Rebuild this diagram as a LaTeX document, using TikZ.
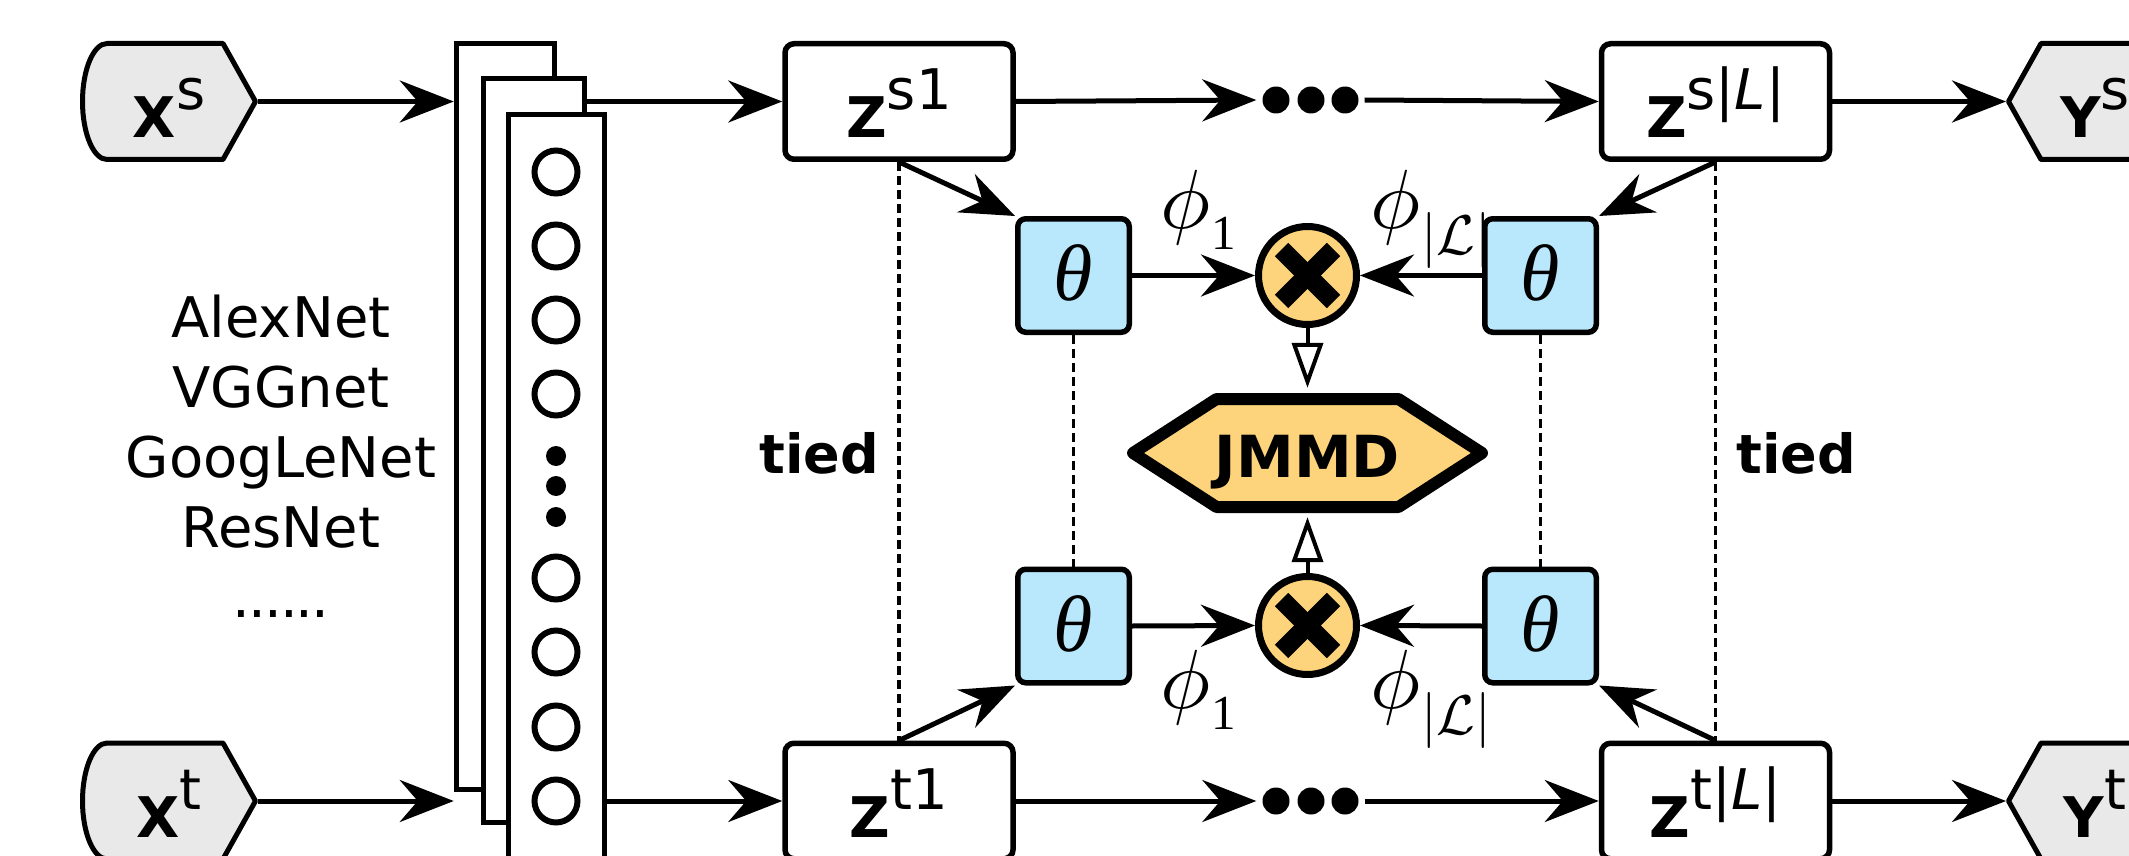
\RequirePackage{fix-cm}
\documentclass[tikz,border=0pt]{standalone}
\usepackage[no-math]{fontspec}
\setmainfont{DejaVu Sans}
\newfontfamily\grkfont{Liberation Serif}
\usetikzlibrary{arrows.meta,backgrounds}

% scale the 10pt math designs to every size
\DeclareFontShape{OML}{cmm}{m}{it}{<->cmmi10}{}
\DeclareFontShape{OMS}{cmsy}{m}{n}{<->cmsy10}{}

% phi with a lowered index
\newcommand{\phiidx}[1]{$\phi$\kern1pt\raisebox{-21pt}{\fontsize{49}{50}\selectfont\grkfont #1}}
\newcommand{\phiL}{$\phi$\kern1pt\raisebox{-26pt}{\fontsize{56}{60}\selectfont$|\mathcal{L}|$}}

\definecolor{iofill}{RGB}{233,233,233}
\definecolor{thfill}{RGB}{185,232,253}
\definecolor{mfill}{RGB}{253,212,124}

\tikzset{
  lbl/.style={font=\fontsize{56}{70}\selectfont, text height=72pt, text depth=0pt, inner sep=0pt},
  iobox/.style={lbl, minimum width=178pt, minimum height=121pt, outer sep=0pt},
  iopath/.style={draw, line width=5pt, fill=iofill, line join=round},
  zbox/.style={lbl, draw, line width=5.5pt, rounded corners=9pt, fill=white,
    minimum width=228pt, minimum height=115.5pt},
  fmap/.style={draw, line width=5.5pt, fill=white, inner sep=0pt},
  neuron/.style={circle, draw, line width=6pt, minimum size=43pt, inner sep=0pt},
  smalldot/.style={circle, fill, minimum size=20pt, inner sep=0pt},
  bigdot/.style={circle, fill, minimum size=27pt, inner sep=0pt},
  thbox/.style={draw, line width=5.5pt, rounded corners=8pt, fill=thfill,
    minimum width=111.5pt, minimum height=113.5pt, inner sep=0pt,
    font=\fontsize{80}{90}\selectfont\grkfont\itshape},
  mult/.style={circle, draw, line width=7pt, fill=mfill, minimum size=98pt, inner sep=0pt},
  xmark/.style={line width=19pt},
  hexpath/.style={draw, line width=12pt, fill=mfill, line join=round},
  flow/.style={line width=5pt, -{Stealth[length=54pt,width=42pt,inset=18pt]}},
  tie/.style={line width=3.5pt, dash pattern=on 9pt off 5pt},
  feed/.style={line width=4pt, -{Triangle[open,length=45pt,width=31pt]}},
  netname/.style={font=\fontsize{56}{70}\selectfont, inner sep=0pt, anchor=base},
  tiedlbl/.style={font=\fontsize{54}{60}\selectfont\bfseries, inner sep=0pt, anchor=base},
  philbl/.style={font=\fontsize{84}{90}\selectfont, inner sep=0pt, anchor=base west},
}

\begin{document}
\begin{tikzpicture}[x=1pt,y=-1pt]
\useasboundingbox (0,0) rectangle (2129,856);

% stacked feature maps of the backbone
\node[fmap, minimum width=98pt, minimum height=746pt] (l1) at (505.5,416.5) {};
\node[fmap, minimum width=101pt, minimum height=744pt] (l2) at (534,450.5) {};
\node[fmap, minimum width=96pt, minimum height=744pt] (l3) at (556.5,486.5) {};
\foreach \y [count=\i] in {172,246,320,394,578,652,727,801}
  \node[neuron] (u\i) at (556,\y) {};
\foreach \y [count=\i] in {456,486,517}
  \node[smalldot] (v\i) at (556,\y) {};

% inputs and outputs
\node[iobox] (xs) at (169,101.5) {{\bfseries X}\raisebox{28pt}{s}};
\node[iobox] (xt) at (169,801) {{\bfseries X}\raisebox{28pt}{t}};
\node[iobox] (ys) at (2095,101.5) {{\bfseries Y}\raisebox{28pt}{s}};
\node[iobox] (yt) at (2095,801) {{\bfseries Y}\raisebox{28pt}{t}};

% layer activations
\node[zbox] (zs1) at (899,101.5) {{\bfseries Z}\raisebox{28pt}{s1}};
\node[zbox] (zsL) at (1715.5,101.5) {{\bfseries Z}\raisebox{28pt}{s|\textit{L}|}};
\node[zbox] (zt1) at (899,801) {{\bfseries Z}\raisebox{28pt}{t1}};
\node[zbox] (ztL) at (1715.5,801) {{\bfseries Z}\raisebox{28pt}{t|\textit{L}|}};

\foreach \x [count=\i] in {1276,1311,1345} {
  \node[bigdot] (ds\i) at (\x,100) {};
  \node[bigdot] (dt\i) at (\x,801) {};
}

% shared parameters and tensor products
\node[thbox] (th1) at (1073.5,275.5) {\raisebox{5pt}{θ}};
\node[thbox] (th2) at (1540.5,275.5) {\raisebox{5pt}{θ}};
\node[thbox] (th3) at (1073.5,626) {\raisebox{5pt}{θ}};
\node[thbox] (th4) at (1540.5,626) {\raisebox{5pt}{θ}};

\node[mult] (m1) at (1307.5,275.5) {};
\node[mult] (m2) at (1307.5,625.5) {};
\foreach \m in {m1,m2} {
  \draw[xmark] ([shift={(-26,-26)}]\m.center) -- ([shift={(26,26)}]\m.center);
  \draw[xmark] ([shift={(-26,26)}]\m.center) -- ([shift={(26,-26)}]\m.center);
}

\node[font=\fontsize{58}{60}\selectfont\bfseries, minimum width=361pt, minimum height=120pt,
  inner sep=0pt, text height=48pt, text depth=0pt] (jmmd) at (1307.5,453) {JMMD};

% outlines behind the labelled nodes
\begin{scope}[on background layer]
  \foreach \n in {xs,xt}
    \draw[iopath, shift={(\n.center)}] (-62,-58) -- (54,-58) -- (86.5,0) -- (54,58) -- (-62,58)
      .. controls (-75.5,58) and (-86.5,32) .. (-86.5,0)
      .. controls (-86.5,-32) and (-75.5,-58) .. cycle;
  \foreach \n in {ys,yt}
    \draw[iopath, shift={(\n.center)}] (62,-58) -- (-54,-58) -- (-86.5,0) -- (-54,58) -- (62,58)
      .. controls (75.5,58) and (86.5,32) .. (86.5,0)
      .. controls (86.5,-32) and (75.5,-58) .. cycle;
  \draw[hexpath, shift={(jmmd.center)}] (-174.5,0) -- (-91,-54) -- (91,-54) -- (174.5,0)
    -- (91,54) -- (-91,54) -- cycle;
\end{scope}

% forward flow
\draw[flow] (xs.east) -- (xs.east -| l1.west);
\draw[flow] (xt.east) -- (xt.east -| l1.west);
\draw[flow] (l2.east |- zs1.west) -- (zs1.west);
\draw[flow] (l3.east |- zt1.west) -- (zt1.west);
\draw[flow] (zs1.east) -- ([xshift=-6pt]ds1.west);
\draw[flow] (zt1.east) -- ([xshift=-6pt]dt1.west);
\draw[flow] ([xshift=6pt]ds3.east) -- (zsL.west);
\draw[flow] ([xshift=6pt]dt3.east) -- (ztL.west);
\draw[flow] (zsL.east) -- (ys.west);
\draw[flow] (ztL.east) -- (yt.west);

\draw[flow] (zs1.south) -- (th1.north west);
\draw[flow] (zsL.south) -- (th2.north east);
\draw[flow] (zt1.north) -- (th3.south west);
\draw[flow] (ztL.north) -- (th4.south east);

\draw[flow] (th1.east) -- (m1.west);
\draw[flow] (th2.west) -- (m1.east);
\draw[flow] (th3.east) -- (m2.west);
\draw[flow] (th4.west) -- (m2.east);

\draw[feed, shorten >=5pt] (m1.south) -- (jmmd.north);
\draw[feed, shorten >=4pt] (m2.north) -- (jmmd.south);

% weight tying
\draw[tie] (zs1.south) -- (zt1.north);
\draw[tie] (th1.south) -- (th3.north);
\draw[tie] (th2.south) -- (th4.north);
\draw[tie] (zsL.south) -- (ztL.north);

\node[tiedlbl] (tl) at (819,473) {tied};
\node[tiedlbl] (tr) at (1796,473) {tied};

% backbone choices
\node[netname] (n1) at (281,337) {AlexNet};
\node[netname] (n2) at (281,407) {VGGnet};
\node[netname] (n3) at (281,477) {GoogLeNet};
\node[netname] (n4) at (281,547) {ResNet};
\node[netname] (n5) at (281,617) {.\kern-2pt.\kern-2pt.\kern-2pt.\kern-2pt.\kern-2pt.};

% feature maps of the layers
\node[philbl] (p1) at (1160,228) {\phiidx{1}};
\node[philbl] (p2) at (1370,228) {\phiL};
\node[philbl] (p3) at (1160,708) {\phiidx{1}};
\node[philbl] (p4) at (1370,708) {\phiL};
\end{tikzpicture}
\end{document}
